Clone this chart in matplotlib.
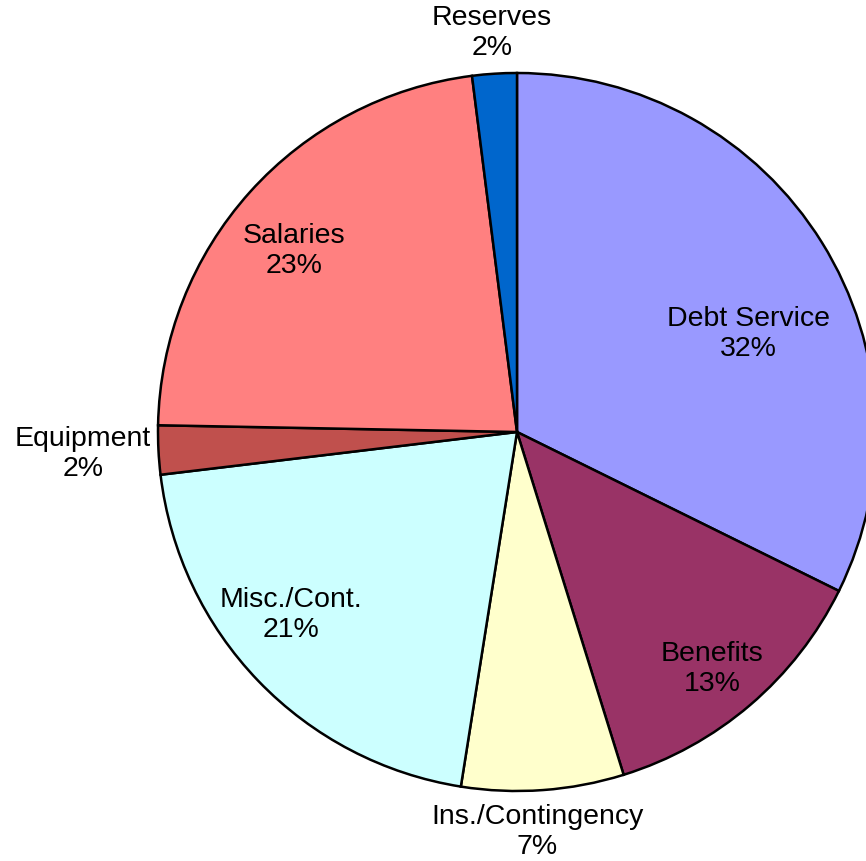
import numpy as np
import matplotlib
matplotlib.use("Agg")
from matplotlib import pyplot as plt

# budget shares, clockwise from 12 o'clock
categories = ["Debt Service", "Benefits", "Ins./Contingency", "Misc./Cont.",
              "Equipment", "Salaries", "Reserves"]
shares = [32.3, 12.9, 7.3, 20.6, 2.2, 22.7, 2.0]
colors = ["#9999FF", "#993366", "#FFFFCC", "#CCFFFF",
          "#C0504D", "#FF8080", "#0066CC"]

# label placement (radius as fraction of pie radius, angle nudge in degrees)
label_r = [0.70, 0.855, 1.115, 0.81, 1.21, 0.80, 1.115]
label_shift = [-9, -1, -1.2, -5, 0, 3, 0]

plt.rcParams['font.family'] = ['Liberation Sans', 'DejaVu Sans']

fig = plt.figure(figsize=(8.66, 8.61), dpi=100)
ax = fig.add_axes([158 / 866, 70 / 861, 718 / 866, 718 / 861])

wedges, _ = ax.pie(shares, colors=colors, startangle=90, counterclock=False,
                   radius=1.0,
                   wedgeprops=dict(edgecolor="black", linewidth=1.8))

total = sum(shares)
for i, w in enumerate(wedges):
    ang = np.deg2rad((w.theta1 + w.theta2) / 2 + label_shift[i])
    x = label_r[i] * np.cos(ang)
    y = label_r[i] * np.sin(ang)
    pct = int(round(shares[i] / total * 100))
    ax.text(x, y, "%s\n%d%%" % (categories[i], pct), ha="center", va="center",
            fontsize=20.5, linespacing=1.2, clip_on=False)

ax.set_xlim(-1, 1)
ax.set_ylim(-1, 1)
ax.set_aspect("equal")
ax.axis("off")

fig.savefig("out.png", dpi=100)
